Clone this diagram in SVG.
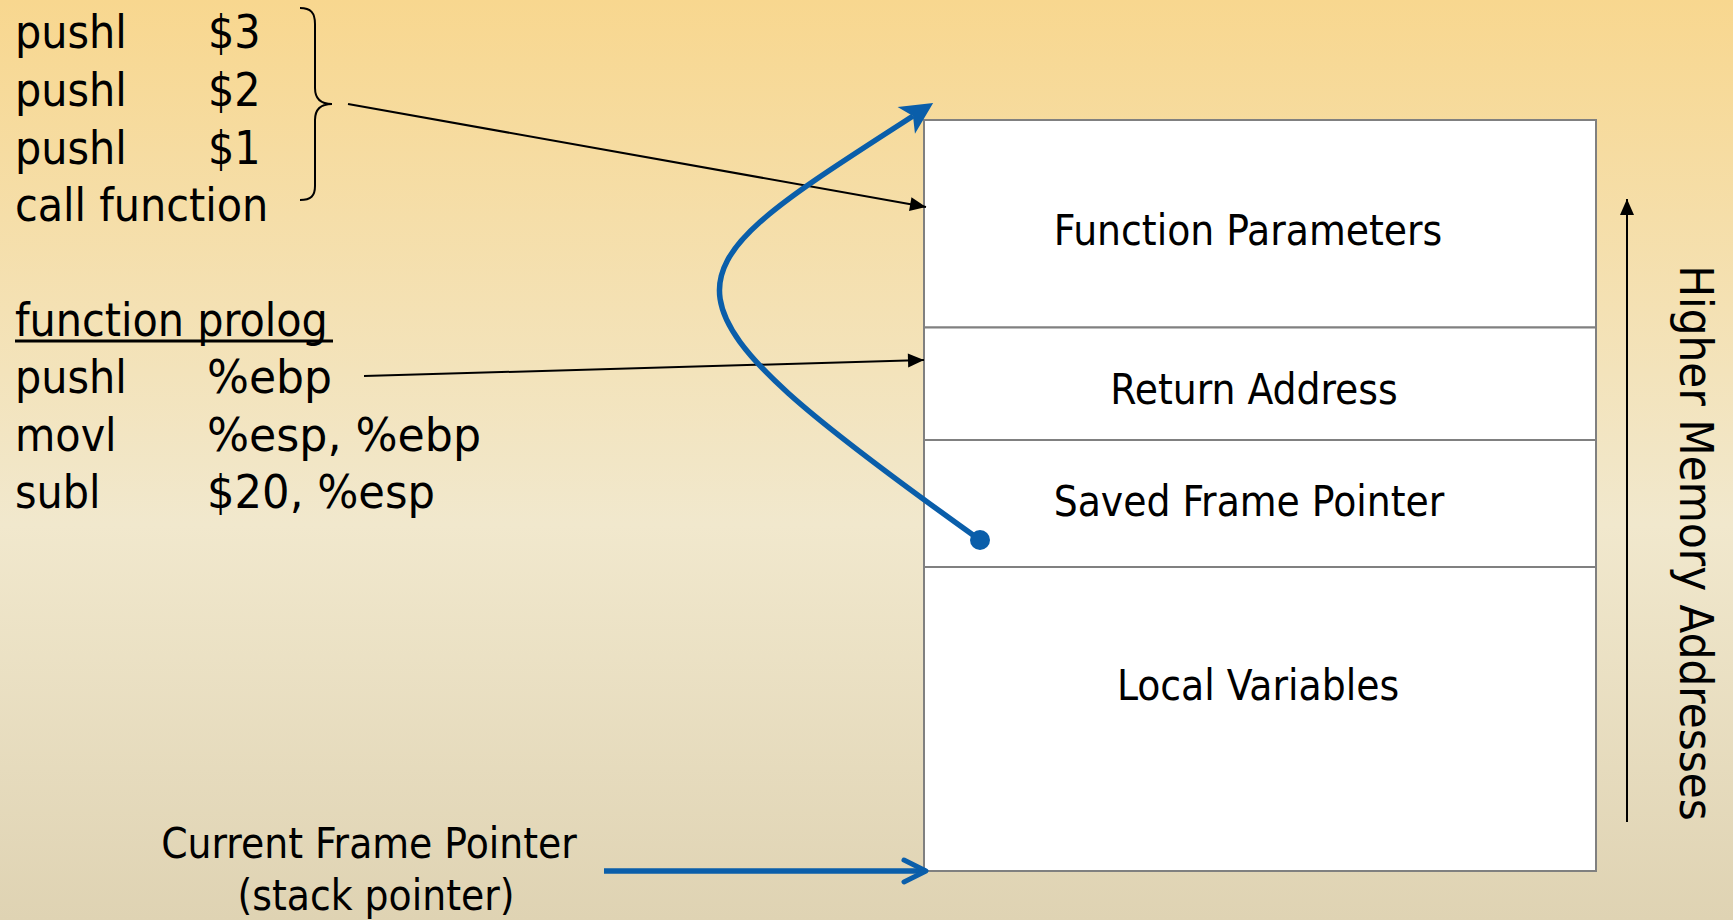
<svg xmlns="http://www.w3.org/2000/svg" width="1733" height="920" viewBox="0 0 1733 920">
  <defs>
    <linearGradient id="bg" x1="0" y1="0" x2="0" y2="1">
      <stop offset="0" stop-color="#F8D78F"/>
      <stop offset="0.57" stop-color="#F1E8CD"/>
      <stop offset="1" stop-color="#DFD3B3"/>
    </linearGradient>
    <marker id="blackHead" markerUnits="userSpaceOnUse" markerWidth="20" markerHeight="16" refX="16" refY="7" orient="auto" overflow="visible">
      <path d="M0,0 L16,7 L0,14 Z" fill="#000"/>
    </marker>
    <marker id="blueStealth" markerUnits="userSpaceOnUse" markerWidth="40" markerHeight="40" refX="0" refY="0" orient="auto" overflow="visible">
      <path d="M24,0 L-8,-16 L0,0 L-8,16 Z" fill="#0A5EAA"/>
    </marker>
    <marker id="blueChevron" markerUnits="userSpaceOnUse" markerWidth="30" markerHeight="30" refX="0" refY="0" orient="auto" overflow="visible">
      <path d="M-22,-11 L0,0 L-22,11" fill="none" stroke="#0A5EAA" stroke-width="5" stroke-linecap="round" stroke-linejoin="round"/>
    </marker>
  </defs>
  <style>
    text { font-family: "DejaVu Sans Condensed", "DejaVu Sans", sans-serif; font-stretch: condensed; fill: #000; }
    .code { font-size: 46px; }
    .cell { font-size: 42px; text-anchor: middle; }
    .cap { font-size: 42px; text-anchor: middle; }
    .slot { fill: #fff; stroke: #808080; stroke-width: 2; }
    .thin { fill: none; stroke: #000; stroke-width: 2; }
    .blue { fill: none; stroke: #0A5EAA; stroke-width: 5.5; }
  </style>

  <rect width="1733" height="920" fill="url(#bg)"/>

  <!-- caller code -->
  <g id="caller-code">
    <text class="code" x="15" y="48">pushl</text><text class="code" x="208" y="48">$3</text>
    <text class="code" x="15" y="106">pushl</text><text class="code" x="208" y="106">$2</text>
    <text class="code" x="15" y="164">pushl</text><text class="code" x="208" y="164">$1</text>
    <text class="code" x="15" y="221">call function</text>
    <path class="thin" d="M300,8 C311,8 315,13 315,24 L315,88 C315,98 320,104 332,104 C320,104 315,110 315,120 L315,186 C315,196 311,200 300,200"/>
  </g>

  <!-- prolog code -->
  <g id="prolog-code">
    <text class="code" x="15" y="336">function prolog</text>
    <line x1="15" y1="341" x2="333" y2="341" stroke="#000" stroke-width="3"/>
    <text class="code" x="15" y="393">pushl</text><text class="code" x="207" y="393" textLength="125" lengthAdjust="spacingAndGlyphs">%ebp</text>
    <text class="code" x="15" y="451">movl</text><text class="code" x="207" y="451" textLength="274" lengthAdjust="spacingAndGlyphs">%esp, %ebp</text>
    <text class="code" x="15" y="508">subl</text><text class="code" x="207" y="508" textLength="228" lengthAdjust="spacingAndGlyphs">$20, %esp</text>
  </g>

  <!-- stack frame -->
  <g id="slot-params">
    <rect class="slot" x="924" y="120" width="672" height="207.5"/>
    <text class="cell" x="1248" y="245">Function Parameters</text>
  </g>
  <g id="slot-return">
    <rect class="slot" x="924" y="327.5" width="672" height="112.5"/>
    <text class="cell" x="1254" y="404">Return Address</text>
  </g>
  <g id="slot-saved-fp">
    <rect class="slot" x="924" y="440" width="672" height="127"/>
    <text class="cell" x="1249" y="516">Saved Frame Pointer</text>
  </g>
  <g id="slot-locals">
    <rect class="slot" x="924" y="567" width="672" height="304"/>
    <text class="cell" x="1258" y="700">Local Variables</text>
  </g>

  <!-- labels -->
  <g id="frame-pointer-label">
    <text class="cap" x="369" y="858">Current Frame Pointer</text>
    <text class="cap" x="376" y="910">(stack pointer)</text>
  </g>
  <g id="address-label">
    <text font-size="47" transform="translate(1680,543) rotate(90)" text-anchor="middle">Higher Memory Addresses</text>
  </g>

  <!-- connectors -->
  <g id="connectors">
    <line class="thin" x1="348" y1="104" x2="926" y2="207" marker-end="url(#blackHead)"/>
    <line class="thin" x1="364" y1="376" x2="924" y2="360" marker-end="url(#blackHead)"/>
    <line class="thin" x1="1627" y1="822" x2="1627" y2="199" marker-end="url(#blackHead)"/>
    <path class="blue" d="M980,540 C627,288 661,279 913,116" marker-end="url(#blueStealth)"/>
    <circle cx="980" cy="540" r="10" fill="#0A5EAA"/>
    <line class="blue" x1="604" y1="871" x2="926" y2="871" marker-end="url(#blueChevron)"/>
  </g>
</svg>
